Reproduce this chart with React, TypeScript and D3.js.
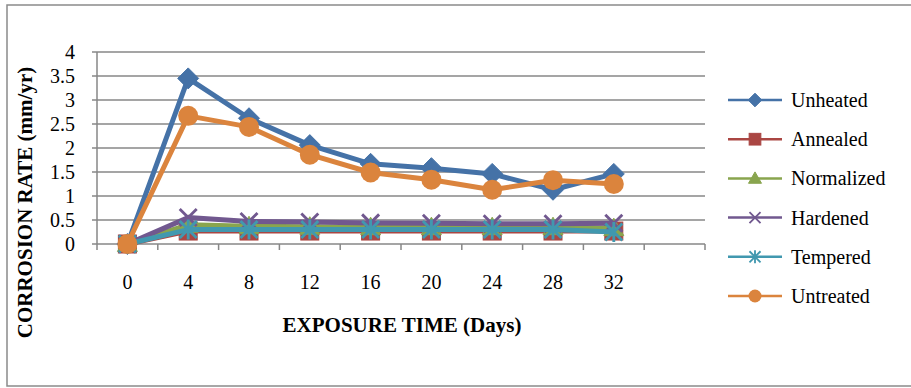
import React from "react";
import * as d3 from "d3";

const days = ["0", "4", "8", "12", "16", "20", "24", "28", "32"];
const bandCount = 10;
const yTicks = [0, 0.5, 1, 1.5, 2, 2.5, 3, 3.5, 4];

const unheated = [0, 3.45, 2.62, 2.06, 1.67, 1.58, 1.46, 1.13, 1.46];
const annealed = [0, 0.27, 0.27, 0.27, 0.27, 0.27, 0.27, 0.27, 0.27];
const normalized = [0, 0.4, 0.37, 0.36, 0.35, 0.35, 0.35, 0.35, 0.33];
const hardened = [0, 0.55, 0.47, 0.46, 0.44, 0.43, 0.42, 0.42, 0.43];
const tempered = [0, 0.3, 0.3, 0.3, 0.3, 0.3, 0.3, 0.3, 0.25];
const untreated = [0, 2.67, 2.44, 1.86, 1.49, 1.34, 1.13, 1.33, 1.25];

const seriesNames = ["Unheated", "Annealed", "Normalized", "Hardened", "Tempered", "Untreated"];
const seriesValues = [unheated, annealed, normalized, hardened, tempered, untreated];
const seriesColors = ["#4572A7", "#AA4643", "#89A54E", "#71588F", "#4198AF", "#DB843D"];
const markerTypes = ["diamond", "square", "triangle", "x", "star", "circle"];

const FONT = "'Liberation Serif', 'Times New Roman', serif";

function Marker({ type, x, y, size, color }: { type: string; x: number; y: number; size: number; color: string }) {
  const h = size / 2;
  if (type === "diamond") {
    return <path d={`M${x},${y - h * 1.05}L${x + h * 1.05},${y}L${x},${y + h * 1.05}L${x - h * 1.05},${y}Z`} fill={color} stroke={color} strokeWidth={1} />;
  }
  if (type === "square") {
    const s = h * 0.9;
    return <rect x={x - s} y={y - s} width={2 * s} height={2 * s} fill={color} stroke={color} strokeWidth={1} />;
  }
  if (type === "triangle") {
    return <path d={`M${x},${y - h}L${x + h},${y + h * 0.75}L${x - h},${y + h * 0.75}Z`} fill={color} stroke={color} strokeWidth={1} />;
  }
  if (type === "x") {
    const s = h * 0.85;
    return <path d={`M${x - s},${y - s}L${x + s},${y + s}M${x - s},${y + s}L${x + s},${y - s}`} stroke={color} strokeWidth={size / 7} fill="none" />;
  }
  if (type === "star") {
    const s = h * 0.85;
    return <path d={`M${x - s},${y - s}L${x + s},${y + s}M${x - s},${y + s}L${x + s},${y - s}M${x},${y - h}L${x},${y + h}`} stroke={color} strokeWidth={size / 7} fill="none" />;
  }
  return <circle cx={x} cy={y} r={h} fill={color} />;
}

export default function App() {
  const left = 97;
  const right = 705;
  const top = 52;
  const bottom = 244;

  const x = d3.scaleBand<number>().domain(d3.range(bandCount)).range([left, right]);
  const y = d3.scaleLinear().domain([0, 4]).range([bottom, top]);
  const cx = (i: number) => (x(i) as number) + x.bandwidth() / 2;

  const line = d3
    .line<number>()
    .x((_, i) => cx(i))
    .y((v) => y(v));

  const legendY = d3.scaleLinear().domain([0, 5]).range([100, 296]);

  return (
    <svg width={911} height={388} style={{ position: "absolute", left: 0, top: 0 }} fontFamily={FONT}>
      <rect x={0} y={0} width={911} height={388} fill="#fff" />
      <rect x={7} y={5} width={905} height={381} fill="none" stroke="#8a8a8a" strokeWidth={1.5} />

      {/* gridlines */}
      {yTicks.map((t) => (
        <line key={"g" + t} x1={left - 5} x2={right} y1={y(t)} y2={y(t)} stroke="#878787" strokeWidth={1.5} />
      ))}
      <line x1={left} x2={left} y1={top} y2={bottom} stroke="#878787" strokeWidth={1.5} />
      {d3.range(bandCount + 1).map((i) => {
        const xx = i < bandCount ? (x(i) as number) : right;
        return <line key={"xt" + i} x1={xx} x2={xx} y1={bottom} y2={bottom + 6} stroke="#878787" strokeWidth={1.5} />;
      })}

      {/* y tick labels */}
      {yTicks.map((t) => (
        <text key={"yl" + t} x={75} y={y(t)} textAnchor="end" dominantBaseline="central" fontSize={20} fill="#000">
          {String(t)}
        </text>
      ))}
      {/* x tick labels */}
      {days.map((d, i) => (
        <text key={"xl" + d} x={cx(i)} y={289} textAnchor="middle" fontSize={20} fill="#000">
          {d}
        </text>
      ))}

      {/* axis titles */}
      <text x={402} y={332} textAnchor="middle" fontSize={21} fontWeight="bold" fill="#000">
        EXPOSURE TIME (Days)
      </text>
      <text
        transform={`translate(25,202.5) rotate(-90)`}
        textAnchor="middle"
        dominantBaseline="central"
        fontSize={21}
        fontWeight="bold"
        fill="#000"
      >
        CORROSION RATE (mm/yr)
      </text>

      {/* series */}
      {seriesValues.map((vals, si) => (
        <g key={"s" + si}>
          <path d={line(vals) || ""} fill="none" stroke={seriesColors[si]} strokeWidth={5} strokeLinejoin="round" />
          {vals.map((v, i) => (
            <Marker key={i} type={markerTypes[si]} x={cx(i)} y={y(v)} size={20} color={seriesColors[si]} />
          ))}
        </g>
      ))}

      {/* legend */}
      {seriesNames.map((name, si) => {
        const ly = legendY(si);
        return (
          <g key={"lg" + si}>
            <line x1={728} x2={782} y1={ly} y2={ly} stroke={seriesColors[si]} strokeWidth={2.5} />
            <Marker type={markerTypes[si]} x={755} y={ly} size={13} color={seriesColors[si]} />
            <text x={791} y={ly} dominantBaseline="central" fontSize={20} fill="#000">
              {name}
            </text>
          </g>
        );
      })}
    </svg>
  );
}
